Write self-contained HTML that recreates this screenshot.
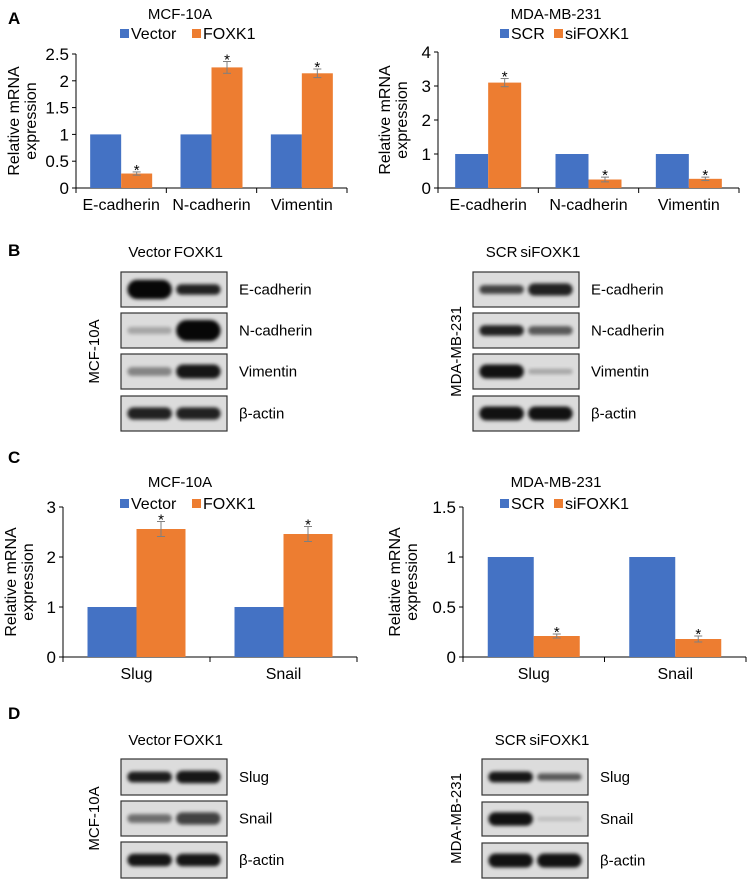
<!DOCTYPE html>
<html><head><meta charset="utf-8"><style>
html,body{margin:0;padding:0;background:#fff;width:753px;height:885px;overflow:hidden}
svg{display:block;font-family:"Liberation Sans",Arial,sans-serif}
</style></head><body>
<svg id="fig" width="753" height="885" viewBox="0 0 753 885">
<defs>
<filter id="blur" x="-20%" y="-50%" width="140%" height="200%"><feGaussianBlur stdDeviation="1.8"/></filter>
</defs>
<g font-weight="bold" font-size="17" fill="#000">
<text x="8" y="24">A</text>
<text x="8" y="256">B</text>
<text x="8" y="463">C</text>
<text x="8" y="719">D</text>
</g>
<g id="charts"></g>
<g id="blots"></g>
</svg>
<script>
// ---- Chart data ----
const catsA = ["E-cadherin","N-cadherin","Vimentin"];
const aLeftCtrl = [1,1,1];
const aLeftTreat = [0.27,2.25,2.14];
const aLeftErr = [0.03,0.11,0.08];
const aLeftTicks = [0,0.5,1,1.5,2,2.5];
const aRightCtrl = [1,1,1];
const aRightTreat = [3.1,0.25,0.27];
const aRightErr = [0.12,0.07,0.05];
const aRightTicks = [0,1,2,3,4];
const catsC = ["Slug","Snail"];
const cLeftCtrl = [1,1];
const cLeftTreat = [2.56,2.46];
const cLeftErr = [0.15,0.15];
const cLeftTicks = [0,1,2,3];
const cRightCtrl = [1,1];
const cRightTreat = [0.21,0.18];
const cRightErr = [0.02,0.03];
const cRightTicks = [0,0.5,1,1.5];

const NS="http://www.w3.org/2000/svg";
function mk(tag,attrs,parent,text){const e=document.createElementNS(NS,tag);for(const k in attrs)e.setAttribute(k,attrs[k]);if(text!==undefined)e.textContent=text;parent.appendChild(e);return e;}
const BLUE="#4472c4",ORANGE="#ed7d31";

function chart(o){
  const g=mk("g",{},document.getElementById("charts"));
  
  
  const max=o.ticks[o.ticks.length-1];
  const y=v=>o.y0-(v/max)*(o.y0-o.yTop);
  const n=o.cats.length, gw=(o.x1-o.x0)/n;
  const t=mk("text",{x:o.cx,y:o.titleY,"text-anchor":"middle","font-size":"15"},g,o.title);
  
  
  const lg=mk("g",{},g);
  
  
  const lx=o.cx+o.legDx;
  mk("rect",{x:lx-2,y:o.legY-10,width:9,height:9,fill:BLUE},lg);
  mk("text",{x:lx+9,y:o.legY,"font-size":"16"},lg,o.leg[0]);
  mk("rect",{x:lx+o.legGap,y:o.legY-10,width:9,height:9,fill:ORANGE},lg);
  mk("text",{x:lx+o.legGap+11,y:o.legY,"font-size":"16"},lg,o.leg[1]);
  const ax=mk("g",{stroke:"#000","stroke-width":"1"},g);
  
  
  mk("line",{x1:o.x0,y1:o.yTop,x2:o.x0,y2:o.y0},ax);
  mk("line",{x1:o.x0,y1:o.y0,x2:o.x1,y2:o.y0},ax);
  o.ticks.forEach(v=>{
    mk("line",{x1:o.x0-4,y1:y(v),x2:o.x0,y2:y(v)},ax);
    const tl=mk("text",{x:o.x0-7,y:y(v)+6,"text-anchor":"end","font-size":"17",stroke:"none"},ax,String(v));
    
    
  });
  for(let i=0;i<=n;i++){const xx=o.x0+i*gw;mk("line",{x1:xx,y1:o.y0,x2:xx,y2:o.y0+5},ax);}
  const yt=mk("text",{transform:`translate(${o.ytX},${(o.yTop+o.y0)/2}) rotate(-90)`,"text-anchor":"middle","font-size":"16"},g);
  
  
  mk("tspan",{x:0,dy:"0"},yt,"Relative mRNA");
  mk("tspan",{x:0,dy:"17"},yt,"expression");
  const bw=o.bw, pad=(gw-2*bw)/2;
  o.cats.forEach((c,i)=>{
    const gx=o.x0+i*gw+pad;
    const b1=mk("rect",{x:gx,y:y(o.ctrl[i]),width:bw,height:o.y0-y(o.ctrl[i]),fill:BLUE},g);
    
    
    const b2=mk("rect",{x:gx+bw,y:y(o.treat[i]),width:bw,height:o.y0-y(o.treat[i]),fill:ORANGE},g);
    
    
    const ex=gx+bw*1.5, hi=y(o.treat[i]+o.err[i]), lo=y(o.treat[i]-o.err[i]);
    const eb=mk("g",{stroke:"#7f7f7f","stroke-width":"1"},g);
    
    
    mk("line",{x1:ex,y1:hi,x2:ex,y2:lo},eb);
    mk("line",{x1:ex-4,y1:hi,x2:ex+4,y2:hi},eb);
    mk("line",{x1:ex-4,y1:lo,x2:ex+4,y2:lo},eb);
    const st=mk("text",{x:ex,y:hi+3,"text-anchor":"middle","font-size":"15"},g,"*");
    
    
    const cl=mk("text",{x:o.x0+(i+0.5)*gw,y:o.y0+22,"text-anchor":"middle","font-size":"16"},g,c);
    
    
  });
}
chart({name:"chart-a-mcf10a",title:"MCF-10A",leg:["Vector","FOXK1"],cats:catsA,ctrl:aLeftCtrl,treat:aLeftTreat,err:aLeftErr,ticks:aLeftTicks,
  x0:76,x1:347,yTop:54,y0:188,bw:31,cx:180,titleY:19,legY:39,legDx:-58,legGap:70,ytX:19});
chart({name:"chart-a-mdamb231",title:"MDA-MB-231",leg:["SCR","siFOXK1"],cats:catsA,ctrl:aRightCtrl,treat:aRightTreat,err:aRightErr,ticks:aRightTicks,
  x0:438,x1:739,yTop:52,y0:188,bw:33,cx:556,titleY:19,legY:39,legDx:-54,legGap:52,ytX:390});
chart({name:"chart-c-mcf10a",title:"MCF-10A",leg:["Vector","FOXK1"],cats:catsC,ctrl:cLeftCtrl,treat:cLeftTreat,err:cLeftErr,ticks:cLeftTicks,
  x0:63,x1:357,yTop:507,y0:657,bw:49,cx:180,titleY:487,legY:509,legDx:-58,legGap:70,ytX:16});
chart({name:"chart-c-mdamb231",title:"MDA-MB-231",leg:["SCR","siFOXK1"],cats:catsC,ctrl:cRightCtrl,treat:cRightTreat,err:cRightErr,ticks:cRightTicks,
  x0:463,x1:746,yTop:507,y0:657,bw:46,cx:556,titleY:487,legY:509,legDx:-54,legGap:52,ytX:400});

// ---- Blots ----
function blot(o){
  const g=mk("g",{},document.getElementById("blots"));
  
  
  const h1=mk("text",{x:o.x+o.w*0.27,y:o.hy,"text-anchor":"middle","font-size":"15"},g,o.lanes[0]);
  
  
  const h2=mk("text",{x:o.x+o.w*0.73,y:o.hy,"text-anchor":"middle","font-size":"15"},g,o.lanes[1]);
  
  
  const cl=o.rows[0].y, cb=o.rows[o.rows.length-1].y+o.rows[o.rows.length-1].h;
  const cell=mk("text",{transform:`translate(${o.cellX},${(cl+cb)/2}) rotate(-90)`,"text-anchor":"middle","font-size":"15"},g,o.cell);
  
  
  o.rows.forEach(r=>{
    const rg=mk("g",{},g);
    
    
    mk("rect",{x:o.x,y:r.y,width:o.w,height:r.h,fill:"#dcdcdc",stroke:"#333","stroke-width":"1.2"},rg);
    r.b.forEach((b,i)=>{
      const cx=o.x+o.w*(i===0?0.27:0.73), bh=r.h*b[1];
      mk("rect",{x:cx-o.w*0.21,y:r.y+r.h/2-bh/2,width:o.w*0.42,height:bh,rx:bh/2,fill:"#000","fill-opacity":b[0],filter:"url(#blur)"},rg);
    });
    mk("text",{x:o.x+o.w+12,y:r.y+r.h/2+5,"font-size":"15"},rg,r.label);
  });
}
blot({name:"western-b-mcf10a",x:121,w:106,hy:257,lanes:["Vector","FOXK1"],cell:"MCF-10A",cellX:99,rows:[
 {y:272,h:35,label:"E-cadherin",b:[[0.97,0.55],[0.85,0.3]]},
 {y:313,h:35,label:"N-cadherin",b:[[0.25,0.2],[0.97,0.6]]},
 {y:354,h:35,label:"Vimentin",b:[[0.4,0.25],[0.9,0.4]]},
 {y:396,h:35,label:"β-actin",b:[[0.85,0.35],[0.85,0.35]]}]});
blot({name:"western-b-mdamb231",x:473,w:106,hy:257,lanes:["SCR","siFOXK1"],cell:"MDA-MB-231",cellX:461,rows:[
 {y:272,h:35,label:"E-cadherin",b:[[0.7,0.25],[0.85,0.35]]},
 {y:313,h:35,label:"N-cadherin",b:[[0.85,0.3],[0.6,0.25]]},
 {y:354,h:35,label:"Vimentin",b:[[0.92,0.4],[0.25,0.15]]},
 {y:396,h:35,label:"β-actin",b:[[0.92,0.4],[0.92,0.4]]}]});
blot({name:"western-d-mcf10a",x:121,w:106,hy:745,lanes:["Vector","FOXK1"],cell:"MCF-10A",cellX:99,rows:[
 {y:759,h:36,label:"Slug",b:[[0.88,0.3],[0.9,0.35]]},
 {y:801,h:35,label:"Snail",b:[[0.5,0.25],[0.7,0.35]]},
 {y:842,h:36,label:"β-actin",b:[[0.9,0.35],[0.9,0.35]]}]});
blot({name:"western-d-mdamb231",x:482,w:106,hy:745,lanes:["SCR","siFOXK1"],cell:"MDA-MB-231",cellX:461,rows:[
 {y:759,h:36,label:"Slug",b:[[0.9,0.3],[0.6,0.2]]},
 {y:802,h:34,label:"Snail",b:[[0.92,0.4],[0.15,0.12]]},
 {y:843,h:35,label:"β-actin",b:[[0.92,0.4],[0.92,0.4]]}]});
</script>
</body></html>
